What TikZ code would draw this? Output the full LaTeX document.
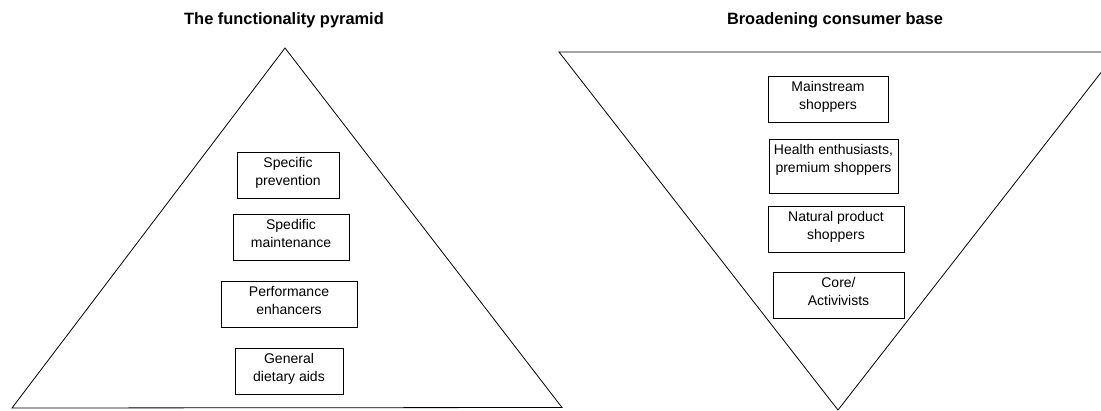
\documentclass[tikz,border=0pt]{standalone}
\usepackage{fontspec}
\setmainfont{Liberation Sans}
\tikzset{
  heading/.style={font=\fontsize{16.4}{19}\selectfont\bfseries, inner sep=0pt},
  outline/.style={draw=black, line width=0.8pt, line join=miter},
  tierbox/.style={rectangle, draw=black, line width=0.8pt, align=center, font=\fontsize{14}{18.5}\selectfont, inner xsep=0pt, inner ysep=2pt, text height=31.1pt, text depth=10.9pt, anchor=north},
}
\begin{document}
\begin{tikzpicture}[x=1pt,y=-1pt]
\useasboundingbox (0,0) rectangle (1101,410);
\clip (0,0) rectangle (1101,410);
\node[heading] (t1) at (284,20) {The functionality pyramid};
\node[heading] (t2) at (835,20) {Broadening consumer base};
\coordinate (pl) at (12,408);
\coordinate (pt) at (285,48);
\coordinate (pr) at (562,407.5);
\draw[outline] (pl) -- (pt) -- (pr) -- cycle;
\coordinate (fl) at (559,52);
\coordinate (fr) at (1117,52);
\coordinate (fb) at (838,410);
\draw[outline] (fl) -- (fr) -- (fb) -- cycle;
\node[tierbox, minimum width=102pt] (sp) at (288,152) {Specific\\prevention};
\node[tierbox, minimum width=116pt] (sm) at (291,214) {Spedific\\maintenance};
\node[tierbox, minimum width=136pt] (pe) at (289,281) {Performance\\enhancers};
\node[tierbox, minimum width=108pt] (gd) at (289,348) {General\\dietary aids};
\node[tierbox, minimum width=120pt] (ms) at (828,76) {Mainstream\\shoppers};
\node[tierbox, minimum width=129pt, text depth=18.9pt] (he) at (833.5,139) {Health enthusiasts,\\premium shoppers};
\node[tierbox, minimum width=136pt] (np) at (836,206) {Natural product\\shoppers};
\node[tierbox, minimum width=131pt] (ca) at (838.5,272) {Core/\\Activivists};
\end{tikzpicture}
\end{document}
